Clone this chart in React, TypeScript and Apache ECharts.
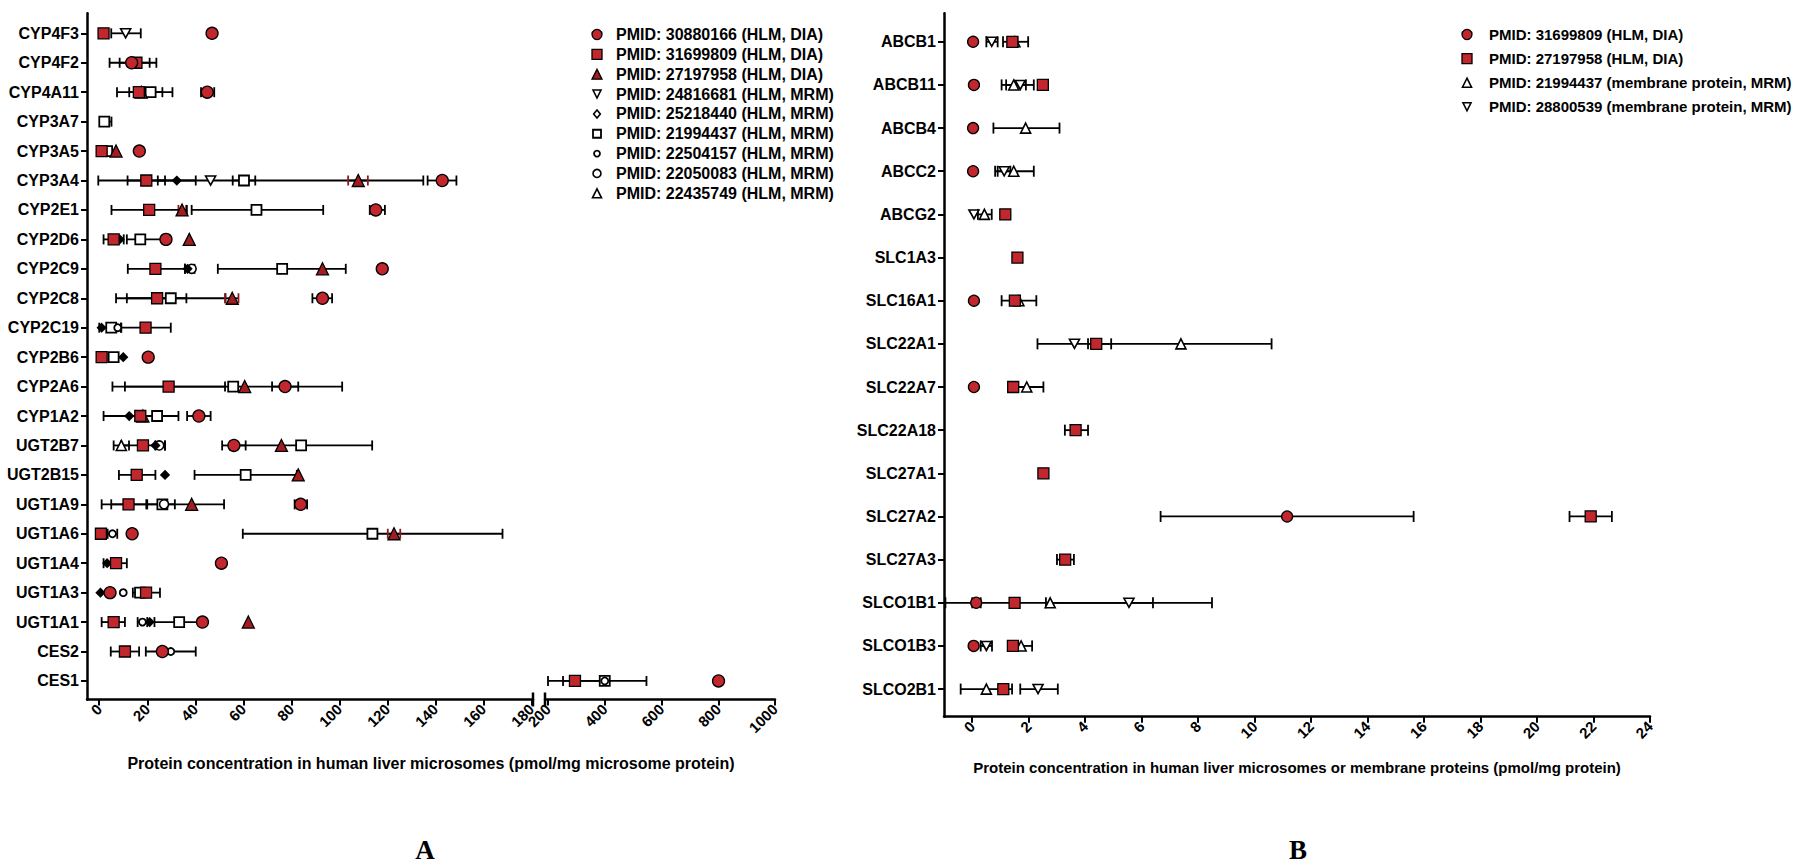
import React, { useEffect, useRef } from "react";
import * as echarts from "echarts";

// ---------------- categories & ticks ----------------
const leftCategories = [
  "CYP4F3", "CYP4F2", "CYP4A11", "CYP3A7", "CYP3A5", "CYP3A4", "CYP2E1", "CYP2D6",
  "CYP2C9", "CYP2C8", "CYP2C19", "CYP2B6", "CYP2A6", "CYP1A2", "UGT2B7", "UGT2B15",
  "UGT1A9", "UGT1A6", "UGT1A4", "UGT1A3", "UGT1A1", "CES2", "CES1",
];
const rightCategories = [
  "ABCB1", "ABCB11", "ABCB4", "ABCC2", "ABCG2", "SLC1A3", "SLC16A1", "SLC22A1",
  "SLC22A7", "SLC22A18", "SLC27A1", "SLC27A2", "SLC27A3", "SLCO1B1", "SLCO1B3", "SLCO2B1",
];
const leftTicksLow = [0, 20, 40, 60, 80, 100, 120, 140, 160, 180];
const leftTicksHigh = [200, 400, 600, 800, 1000];
const rightTicks = [0, 2, 4, 6, 8, 10, 12, 14, 16, 18, 20, 22, 24];

// [protein, mean, error low, error high]
type Row = [string, number, number | null, number | null];

// ---------------- panel A data ----------------
const a30880166: Row[] = [
  ["CYP4F3", 47, null, null], ["CYP4F2", 13.5, 8.5, 21], ["CYP4A11", 45, 42.4, 47.9],
  ["CYP3A5", 16.7, null, null], ["CYP3A4", 142.9, 136.8, 148.8], ["CYP2E1", 115.2, 112.7, 119],
  ["CYP2D6", 27.8, null, null], ["CYP2C9", 117.9, null, null], ["CYP2C8", 93, 88.8, 97],
  ["CYP2B6", 20.4, null, null], ["CYP2A6", 77.4, 72, 82.9], ["CYP1A2", 41.5, 36.6, 46.4],
  ["UGT2B7", 56.1, 51.2, 61], ["UGT1A9", 83.9, 81.4, 86.6], ["UGT1A6", 13.7, null, null],
  ["UGT1A4", 50.9, null, null], ["UGT1A3", 4.5, null, null], ["UGT1A1", 43, null, null],
  ["CES2", 26.3, null, null], ["CES1", 801, null, null],
];
const a31699809: Row[] = [
  ["CYP4F3", 1.8, null, null], ["CYP4F2", 15.5, 4.3, 23.8], ["CYP4A11", 16.5, 7.4, 26.3],
  ["CYP3A5", 1.0, null, null], ["CYP3A4", 19.6, 11.8, 27.4], ["CYP2E1", 20.8, 5.1, 36.5],
  ["CYP2D6", 6, 1.8, 10.2], ["CYP2C9", 23.4, 11.9, 35.7], ["CYP2C8", 24.1, 11.5, 36.3],
  ["CYP2C19", 19.3, 9, 29.8], ["CYP2B6", 1.0, null, null], ["CYP2A6", 28.9, 5.5, 52.4],
  ["CYP1A2", 17.1, 1.8, 33], ["UGT2B7", 18.2, 9, 27.4], ["UGT2B15", 15.6, 8.2, 23.4],
  ["UGT1A9", 12.2, 5, 19.6], ["UGT1A6", 0.7, null, null], ["UGT1A4", 7, 1.8, 11.5],
  ["UGT1A3", 19.5, 14, 25.3], ["UGT1A1", 6, 1, 10.7], ["CES2", 10.7, 4.8, 16.6],
  ["CES1", 295, 200, 390],
];
const a27197958: Row[] = [
  ["CYP4A11", 17.5, null, null], ["CYP3A5", 7, null, null], ["CYP3A4", 107.9, 103.7, 111.9],
  ["CYP2E1", 34.5, 33, 36.2], ["CYP2D6", 37.5, null, null], ["CYP2C9", 93, null, null],
  ["CYP2C8", 55.4, 52.4, 58], ["CYP2A6", 60.6, null, null], ["CYP1A2", 18.2, null, null],
  ["UGT2B7", 75.9, null, null], ["UGT2B15", 82.9, null, null], ["UGT1A9", 38.5, null, null],
  ["UGT1A6", 122.8, 120.2, 125.4], ["UGT1A1", 62.1, null, null],
];
const a24816681: Row[] = [
  ["CYP4F3", 11, 5, 17.3], ["CYP3A4", 46.4, -0.4, 135],
];
const a25218440: Row[] = [
  ["CYP3A4", 32.3, 24.4, 40.2], ["CYP2D6", 8.5, null, null], ["CYP2C9", 36.8, 35.7, 39.7],
  ["CYP2C19", 1, null, null], ["CYP2B6", 10, null, null], ["CYP1A2", 12.5, null, null],
  ["UGT2B7", 23.4, null, null], ["UGT2B15", 27.4, null, null], ["UGT1A4", 3.3, null, null],
  ["UGT1A3", 0.5, null, null], ["UGT1A1", 21, null, null],
];
const a21994437: Row[] = [
  ["CYP4A11", 21.4, 12.5, 30.5], ["CYP3A7", 2.1, 0.3, 5.1], ["CYP3A5", 3.3, null, null],
  ["CYP3A4", 60.3, 55.6, 65], ["CYP2E1", 65.5, 38.5, 93.3], ["CYP2D6", 17.1, 11.5, 27],
  ["CYP2C9", 76.2, 49.4, 102.7], ["CYP2C8", 29.8, 7, 52.6], ["CYP2C19", 5, 0, 9.2],
  ["CYP2B6", 6, null, null], ["CYP2A6", 55.8, 10.7, 101.2], ["CYP1A2", 24.1, null, null],
  ["UGT2B7", 84.1, 54.5, 113.7], ["UGT2B15", 61, 39.7, 82.3], ["UGT1A9", 26.3, 1, 52],
  ["UGT1A6", 113.8, 59.8, 168], ["UGT1A3", 17, null, null], ["UGT1A1", 33.3, 23, 43.5],
  ["CES1", 400, 253, 547],
];
const a22504157: Row[] = [
  ["CYP2C19", 7.7, null, null], ["UGT1A6", 5.5, 3.5, 7.5], ["UGT1A3", 10, null, null],
  ["UGT1A1", 18, 16, 20], ["CES2", 29.8, 19.4, 40.2], ["CES1", 400, null, null],
];
const a22050083: Row[] = [
  ["CYP2C9", 38.5, null, null], ["UGT2B7", 25, 23.4, 27.4], ["UGT1A9", 27, 20, 31.5],
];
const a22435749: Row[] = [
  ["UGT2B7", 9.2, 6, 12.4],
];

// ---------------- panel B data ----------------
const b31699809: Row[] = [
  ["ABCB1", 0.03, null, null], ["ABCB11", 0.06, null, null], ["ABCB4", 0.03, null, null],
  ["ABCC2", 0.03, null, null], ["SLC16A1", 0.06, null, null], ["SLC22A7", 0.06, null, null],
  ["SLC27A2", 11.15, 6.67, 15.63], ["SLCO1B1", 0.14, 0.0, 0.3], ["SLCO1B3", 0.05, null, null],
];
const b27197958: Row[] = [
  ["ABCB1", 1.42, 1.26, 1.6], ["ABCB11", 2.5, null, null], ["ABCG2", 1.17, null, null],
  ["SLC1A3", 1.6, null, null], ["SLC16A1", 1.51, null, null], ["SLC22A1", 4.39, null, null],
  ["SLC22A7", 1.45, null, null], ["SLC22A18", 3.66, 3.28, 4.1], ["SLC27A1", 2.52, null, null],
  ["SLC27A2", 21.9, 21.15, 22.65], ["SLC27A3", 3.29, 3.0, 3.6], ["SLCO1B1", 1.5, null, null],
  ["SLCO1B3", 1.44, null, null], ["SLCO2B1", 1.1, 0.95, 1.25],
];
const b21994437: Row[] = [
  ["ABCB1", 1.51, 1.09, 1.98], ["ABCB11", 1.47, 1.04, 1.9], ["ABCB4", 1.89, 0.75, 3.09],
  ["ABCC2", 1.47, 0.81, 2.18], ["ABCG2", 0.43, 0.2, 0.69], ["SLC16A1", 1.65, 1.04, 2.27],
  ["SLC22A1", 7.39, 4.1, 10.6], ["SLC22A7", 1.93, 1.35, 2.52], ["SLCO1B1", 2.76, -0.95, 6.4],
  ["SLCO1B3", 1.73, 1.34, 2.12], ["SLCO2B1", 0.5, -0.41, 1.41],
];
const b28800539: Row[] = [
  ["ABCB1", 0.69, 0.5, 0.9], ["ABCB11", 1.7, 1.2, 2.18], ["ABCC2", 1.13, 0.9, 1.35],
  ["ABCG2", 0.06, null, null], ["SLC22A1", 3.62, 2.31, 4.92], ["SLCO1B1", 5.55, 2.61, 8.49],
  ["SLCO1B3", 0.5, 0.3, 0.7], ["SLCO2B1", 2.33, 1.7, 3.03],
];

// ---------------- styles ----------------
const RED = "#c1272d";
const DARKRED = "#a11d22";
const FONT = '"Liberation Sans", Arial, Helvetica, sans-serif';
const SERIF = '"Liberation Serif", "Times New Roman", serif';
const INV_TRI = "path://M0,0L12,0L6,10.4Z";

type Kind = "circle" | "rect" | "triangle" | "invtri" | "diamond";
interface Marker { kind: Kind; symbol: string; size: number | number[]; fill: string; legendFill: string; border: number; legendSize: number; err: string; }

const M = {
  redCircle: { kind: "circle", symbol: "circle", size: 12, fill: RED, legendFill: RED, border: 1.3, legendSize: 10, err: "#000" },
  redSquare: { kind: "rect", symbol: "rect", size: 11, fill: RED, legendFill: RED, border: 1.3, legendSize: 10, err: "#000" },
  redTriangle: { kind: "triangle", symbol: "triangle", size: 12, fill: DARKRED, legendFill: DARKRED, border: 1.3, legendSize: 10, err: "#8a1a1e" },
  openInvTri: { kind: "invtri", symbol: INV_TRI, size: [10, 9], fill: "#fff", legendFill: "#fff", border: 1.6, legendSize: 8, err: "#000" },
  diamond: { kind: "diamond", symbol: "diamond", size: 8, fill: "#000", legendFill: "#fff", border: 1.6, legendSize: 8, err: "#000" },
  openSquare: { kind: "rect", symbol: "rect", size: 10, fill: "#fff", legendFill: "#fff", border: 1.8, legendSize: 8, err: "#000" },
  openSmallCircle: { kind: "circle", symbol: "circle", size: 7, fill: "#fff", legendFill: "#fff", border: 1.8, legendSize: 6, err: "#000" },
  openCircle: { kind: "circle", symbol: "circle", size: 9, fill: "#fff", legendFill: "#fff", border: 1.6, legendSize: 8, err: "#000" },
  openTriangle: { kind: "triangle", symbol: "triangle", size: 10, fill: "#fff", legendFill: "#fff", border: 1.6, legendSize: 9, err: "#000" },
} as Record<string, Marker>;

const leftDefs = [
  { name: "PMID: 30880166 (HLM, DIA)", rows: a30880166, m: M.redCircle },
  { name: "PMID: 31699809 (HLM, DIA)", rows: a31699809, m: M.redSquare },
  { name: "PMID: 27197958 (HLM, DIA)", rows: a27197958, m: M.redTriangle },
  { name: "PMID: 24816681 (HLM, MRM)", rows: a24816681, m: M.openInvTri },
  { name: "PMID: 25218440 (HLM, MRM)", rows: a25218440, m: M.diamond },
  { name: "PMID: 21994437 (HLM, MRM)", rows: a21994437, m: M.openSquare },
  { name: "PMID: 22504157 (HLM, MRM)", rows: a22504157, m: M.openSmallCircle },
  { name: "PMID: 22050083 (HLM, MRM)", rows: a22050083, m: M.openCircle },
  { name: "PMID: 22435749 (HLM, MRM)", rows: a22435749, m: M.openTriangle },
];
const rightDefs = [
  { name: "PMID: 31699809 (HLM, DIA)", rows: b31699809, m: { ...M.redCircle, size: 11 } },
  { name: "PMID: 27197958 (HLM, DIA)", rows: b27197958, m: { ...M.redSquare, size: 11 } },
  { name: "PMID: 21994437 (membrane protein, MRM)", rows: b21994437, m: M.openTriangle },
  { name: "PMID: 28800539 (membrane protein, MRM)", rows: b28800539, m: M.openInvTri },
];
// draw order: open markers beneath red ones
const leftOrder = [5, 6, 7, 8, 3, 4, 2, 1, 0];
const rightOrder = [2, 3, 1, 0];

// ---------------- layout ----------------
const BREAK_AT = 185;
const LEFT_LOW = { min: -5.1, max: 180.7 };
const LEFT_HIGH = { min: 189.4, max: 1000 };
const LEFT_Y = { min: -0.68, max: 22.63 };
const RIGHT_X = { min: -1, max: 24 };
const RIGHT_Y = { min: -0.66, max: 15.64 };

function errSeries(rows: Row[], cats: string[], xi: number, yi: number, color: string, half: number) {
  const data = rows
    .filter((r) => r[2] !== null && r[3] !== null)
    .map((r) => [r[2] as number, r[3] as number, cats.indexOf(r[0])]);
  return {
    type: "custom",
    xAxisIndex: xi,
    yAxisIndex: yi,
    silent: true,
    z: 1,
    data,
    encode: { x: [0, 1], y: 2 },
    renderItem: (_p: any, api: any) => {
      const a = api.coord([api.value(0), api.value(2)]);
      const b = api.coord([api.value(1), api.value(2)]);
      const st = { stroke: color, lineWidth: 1.8 };
      return {
        type: "group",
        children: [
          { type: "line", shape: { x1: a[0], y1: a[1], x2: b[0], y2: b[1] }, style: { ...st, stroke: "#000" } },
          { type: "line", shape: { x1: a[0], y1: a[1] - half, x2: a[0], y2: a[1] + half }, style: st },
          { type: "line", shape: { x1: b[0], y1: b[1] - half, x2: b[0], y2: b[1] + half }, style: st },
        ],
      };
    },
  };
}

function scatterSeries(name: string, rows: Row[], cats: string[], xi: number, yi: number, m: Marker, z: number) {
  return {
    type: "scatter",
    name,
    xAxisIndex: xi,
    yAxisIndex: yi,
    silent: true,
    z: 2 + z * 0.01,
    symbol: m.symbol,
    symbolSize: m.size,
    itemStyle: { color: m.fill, borderColor: "#000", borderWidth: m.border, opacity: 1 },
    data: rows.map((r) => [r[1], cats.indexOf(r[0])]),
  };
}

function legendMarker(m: Marker, cx: number, cy: number) {
  const s = m.legendSize;
  const style = { fill: m.legendFill, stroke: "#000", lineWidth: m.border };
  switch (m.kind) {
    case "circle":
      return { type: "circle", shape: { cx, cy, r: s / 2 }, style };
    case "rect":
      return { type: "rect", shape: { x: cx - s / 2, y: cy - s / 2, width: s, height: s }, style };
    case "triangle":
      return { type: "polygon", shape: { points: [[cx, cy - s / 2], [cx + s / 2, cy + s / 2], [cx - s / 2, cy + s / 2]] }, style };
    case "invtri":
      return { type: "polygon", shape: { points: [[cx - s / 2, cy - s / 2], [cx + s / 2, cy - s / 2], [cx, cy + s / 2]] }, style };
    default:
      return { type: "polygon", shape: { points: [[cx, cy - s / 2], [cx + s * 0.42, cy], [cx, cy + s / 2], [cx - s * 0.42, cy]] }, style };
  }
}

function legendGroup(defs: { name: string; m: Marker }[], mx: number, tx: number, y0: number, dy: number, fontSize: number) {
  const out: any[] = [];
  defs.forEach((d, i) => {
    const cy = y0 + i * dy;
    out.push(legendMarker(d.m, mx, cy));
    out.push({
      type: "text",
      x: tx,
      y: cy,
      style: { text: d.name, fill: "#000", font: `bold ${fontSize}px ${FONT}`, textAlign: "left", textVerticalAlign: "middle" },
    });
  });
  return out;
}

function breakMark(xi: number, yi: number, xv: number, yv: number) {
  return {
    type: "custom",
    xAxisIndex: xi,
    yAxisIndex: yi,
    silent: true,
    z: 3,
    data: [[xv, yv]],
    encode: { x: 0, y: 1 },
    renderItem: (_p: any, api: any) => {
      const c = api.coord([api.value(0), api.value(1)]);
      return { type: "line", shape: { x1: c[0], y1: c[1] - 7, x2: c[0], y2: c[1] + 7 }, style: { stroke: "#000", lineWidth: 2.5 } };
    },
  };
}

const axisLineStyle = { show: true, onZero: false, lineStyle: { color: "#000", width: 2.5 } };
const tickStyle = (vals: number[]) => ({ show: true, customValues: vals, length: 6, lineStyle: { color: "#000", width: 2 } });
const xLabel = (vals: number[]) => ({
  show: true, customValues: vals, rotate: 45, margin: 7, color: "#000",
  fontSize: 15, fontWeight: "bold", fontFamily: FONT, formatter: (v: number) => String(v),
});
const yLabel = (cats: string[]) => ({
  show: true, customValues: cats.map((_, i) => i), margin: 8, color: "#000",
  fontSize: 16, fontWeight: "bold", fontFamily: FONT, formatter: (v: number) => cats[Math.round(v)] ?? "",
});

function buildOption() {
  const series: any[] = [];
  // left panel
  leftOrder.forEach((k, zi) => {
    const d = leftDefs[k];
    const low = d.rows.filter((r) => r[1] <= BREAK_AT);
    const high = d.rows.filter((r) => r[1] > BREAK_AT);
    series.push(errSeries(low, leftCategories, 0, 0, d.m.err, 5));
    series.push(scatterSeries(d.name, low, leftCategories, 0, 0, d.m, zi));
    if (high.length) {
      series.push(errSeries(high, leftCategories, 1, 1, d.m.err, 5));
      series.push(scatterSeries(d.name, high, leftCategories, 1, 1, d.m, zi));
    }
  });
  // right panel
  rightOrder.forEach((k, zi) => {
    const d = rightDefs[k];
    series.push(errSeries(d.rows, rightCategories, 2, 2, d.m.err, 5.5));
    series.push(scatterSeries(d.name, d.rows, rightCategories, 2, 2, d.m, zi));
  });
  series.push(breakMark(0, 0, LEFT_LOW.max, LEFT_Y.max));
  series.push(breakMark(1, 1, LEFT_HIGH.min, LEFT_Y.max));

  const graphic: any[] = [
    ...legendGroup(leftDefs, 597, 616, 34.5, 19.85, 16),
    ...legendGroup(rightDefs, 1467, 1489, 34.5, 24.1, 15),
    {
      type: "text", x: 431, y: 763,
      style: { text: "Protein concentration in human liver microsomes (pmol/mg microsome protein)", fill: "#000", font: `bold 16px ${FONT}`, textAlign: "center", textVerticalAlign: "middle" },
    },
    {
      type: "text", x: 1297, y: 767,
      style: { text: "Protein concentration in human liver microsomes or membrane proteins (pmol/mg protein)", fill: "#000", font: `bold 15px ${FONT}`, textAlign: "center", textVerticalAlign: "middle" },
    },
    { type: "text", x: 425, y: 850, style: { text: "A", fill: "#000", font: `bold 27px ${SERIF}`, textAlign: "center", textVerticalAlign: "middle" } },
    { type: "text", x: 1298, y: 850, style: { text: "B", fill: "#000", font: `bold 27px ${SERIF}`, textAlign: "center", textVerticalAlign: "middle" } },
  ];

  return {
    animation: false,
    backgroundColor: "#fff",
    textStyle: { fontFamily: FONT },
    grid: [
      { left: 87, top: 13.3, width: 446, height: 686.2, outerBoundsMode: "none", containLabel: false },
      { left: 545, top: 13.3, width: 230, height: 686.2, outerBoundsMode: "none", containLabel: false },
      { left: 944, top: 13.3, width: 706, height: 703.4, outerBoundsMode: "none", containLabel: false },
    ],
    xAxis: [
      { type: "value", gridIndex: 0, position: "bottom", ...LEFT_LOW, axisLine: axisLineStyle, axisTick: tickStyle(leftTicksLow), axisLabel: xLabel(leftTicksLow), splitLine: { show: false } },
      { type: "value", gridIndex: 1, position: "bottom", ...LEFT_HIGH, axisLine: axisLineStyle, axisTick: tickStyle(leftTicksHigh), axisLabel: xLabel(leftTicksHigh), splitLine: { show: false } },
      { type: "value", gridIndex: 2, position: "bottom", ...RIGHT_X, axisLine: axisLineStyle, axisTick: tickStyle(rightTicks), axisLabel: xLabel(rightTicks), splitLine: { show: false } },
    ],
    yAxis: [
      { type: "value", gridIndex: 0, inverse: true, ...LEFT_Y, axisLine: axisLineStyle, axisTick: tickStyle(leftCategories.map((_, i) => i)), axisLabel: yLabel(leftCategories), splitLine: { show: false } },
      { type: "value", gridIndex: 1, inverse: true, ...LEFT_Y, show: false, splitLine: { show: false } },
      { type: "value", gridIndex: 2, inverse: true, ...RIGHT_Y, axisLine: axisLineStyle, axisTick: tickStyle(rightCategories.map((_, i) => i)), axisLabel: yLabel(rightCategories), splitLine: { show: false } },
    ],
    series,
    graphic,
  };
}

export default function App() {
  const ref = useRef<HTMLDivElement>(null);
  useEffect(() => {
    if (!ref.current) return;
    const chart = echarts.init(ref.current, null, { renderer: "svg" });
    chart.setOption(buildOption() as any);
    return () => chart.dispose();
  }, []);
  return (
    <div
      ref={ref}
      style={{ position: "fixed", left: 0, top: 0, width: 1800, height: 867, background: "#fff" }}
    />
  );
}
